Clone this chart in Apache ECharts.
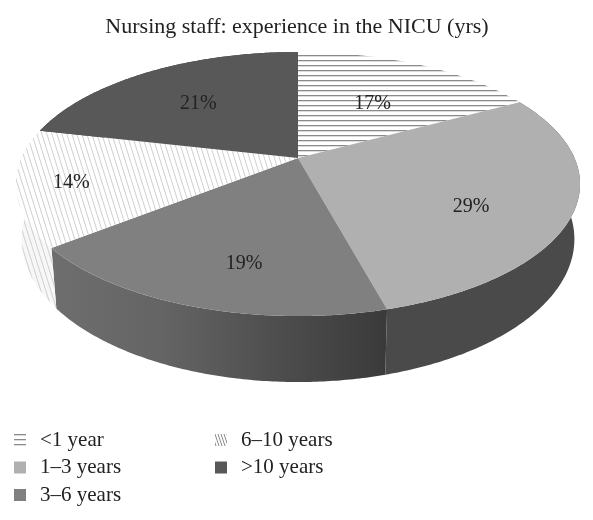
<!DOCTYPE html>
<html>
<head>
<meta charset="utf-8">
<style>html,body{margin:0;background:#fff}#main{width:593px;height:520px}</style>
<script src="https://cdn.jsdelivr.net/npm/echarts@6/dist/echarts.min.js"></script>
</head>
<body>
<div id="main"></div>
<script>
const titleText = 'Nursing staff: experience in the NICU (yrs)';
const categories = ['<1 year', '1–3 years', '3–6 years', '6–10 years', '>10 years'];
// shown as 17 / 29 / 19 / 14 / 21 %, slice angles read a little finer off the picture
const sliceValues = [17.0, 28.8, 18.5, 14.3, 21.4];

// tilted disc: screen position of a rim point at angle t (clockwise from 12 o'clock)
const CX = 298, CY = 158, RX = 276.5, RY = 126.9, TILT = 0.197, DEPTH = 53, SHRINK = 0.98;

function project(t, r) {
    const X = r * Math.sin(t), Y = r * Math.cos(t);
    const d = 1 + TILT * Y;
    return [CX + RX * X / d, CY - RY * Y / d];
}
function projectBottom(t) {
    const p = project(t, 1);
    return [CX + (p[0] - CX) * SHRINK, p[1] + DEPTH / (1 + TILT * Math.cos(t))];
}

function stripes() {
    const c = document.createElement('canvas');
    c.width = 8; c.height = 5;
    const g = c.getContext('2d');
    g.fillStyle = '#fff'; g.fillRect(0, 0, 8, 5);
    g.fillStyle = '#8a8a8a'; g.fillRect(0, 0, 8, 1);
    g.fillStyle = '#dcdcdc'; g.fillRect(0, 1, 8, 1);
    return { image: c, repeat: 'repeat' };
}
function hatch(bg, line, w) {
    const c = document.createElement('canvas');
    c.width = w; c.height = w * 3.2;
    const g = c.getContext('2d');
    g.fillStyle = bg; g.fillRect(0, 0, c.width, c.height);
    g.strokeStyle = line; g.lineWidth = 1;
    for (let i = -1; i <= 1; i++) {
        g.beginPath(); g.moveTo(i * w, 0); g.lineTo(i * w + w, c.height); g.stroke();
    }
    return { image: c, repeat: 'repeat' };
}
function sideShade(stops) {
    return {
        type: 'linear', x: 0, y: 0, x2: 1, y2: 0,
        colorStops: stops.map((s, i) => ({ offset: i / (stops.length - 1), color: s }))
    };
}

const topFills = [stripes(), '#b0b0b0', '#808080', hatch('#fff', '#cfcfcf', 5), '#585858'];
const wallFills = ['#777', '#4a4a4a', sideShade(['#6e6e6e', '#646464', '#4e4e4e', '#3a3a3a']), hatch('#f7f7f7', '#cfcfcf', 5), '#444'];
const legendFills = [stripes(), '#b0b0b0', '#808080', hatch('#fff', '#8c8c8c', 3), '#585858'];
// label placement: radial fraction and nudge in px
const labelFit = [[0.6, 5, -2], [0.65, 15, -1], [0.65, 17, 10], [0.78, 2, -9], [0.6, 0, -5]];

function renderSlice(i) {
    return function (params, api) {
        const total = sliceValues.reduce((a, b) => a + b, 0);
        let before = 0;
        for (let k = 0; k < i; k++) before += sliceValues[k];
        const a0 = before / total * Math.PI * 2;
        const a1 = (before + api.value(0)) / total * Math.PI * 2;

        const rim = [], under = [];
        const n = Math.max(2, Math.ceil((a1 - a0) / 0.01));
        for (let s = 0; s <= n; s++) {
            const t = a0 + (a1 - a0) * s / n;
            rim.push(project(t, 1));
            under.push(projectBottom(t));
        }
        const mid = (a0 + a1) / 2;
        const lp = project(mid, labelFit[i][0]);
        const children = [];
        if (Math.cos(a0) < 0.3 || Math.cos(a1) < 0.3) {
            children.push({
                type: 'polygon', z2: 1,
                shape: { points: rim.concat(under.slice().reverse()) },
                style: { fill: wallFills[i], stroke: null }
            });
        }
        children.push({
            type: 'polygon', z2: 2,
            shape: { points: [[CX, CY]].concat(rim) },
            style: { fill: topFills[i], stroke: null }
        });
        children.push({
            type: 'text', z2: 3,
            style: {
                x: lp[0] + labelFit[i][2], y: lp[1] + labelFit[i][1],
                text: Math.round(api.value(0)) + '%',
                align: 'center', verticalAlign: 'middle',
                fill: '#222', font: '20px "Liberation Serif"'
            }
        });
        return { type: 'group', children: children };
    };
}

function legendItems(from, to) {
    const out = [];
    for (let i = from; i < to; i++) {
        out.push({ name: categories[i], icon: 'rect', itemStyle: { color: legendFills[i] } });
    }
    return out;
}
const legendBase = {
    orient: 'vertical', top: 429, padding: 0, itemWidth: 12, itemHeight: 12, itemGap: 5.5,
    selectedMode: false,
    textStyle: {
        fontFamily: 'Liberation Serif', fontSize: 21, color: '#222',
        lineHeight: 22, padding: [0, 0, 0, 9]
    }
};

const chart = echarts.init(document.getElementById('main'), null, { renderer: 'canvas' });
chart.setOption({
    animation: false,
    title: {
        text: titleText, left: 292, top: 11, textAlign: 'center',
        textStyle: { fontFamily: 'Liberation Serif', fontSize: 22, fontWeight: 'normal', color: '#222' }
    },
    legend: [
        Object.assign({}, legendBase, { left: 14, data: legendItems(0, 3) }),
        Object.assign({}, legendBase, { left: 215, data: legendItems(3, 5) })
    ],
    series: categories.map((name, i) => ({
        name: name,
        type: 'custom',
        coordinateSystem: 'none',
        silent: true,
        renderItem: renderSlice(i),
        data: [[sliceValues[i]]]
    }))
});
</script>
</body>
</html>
